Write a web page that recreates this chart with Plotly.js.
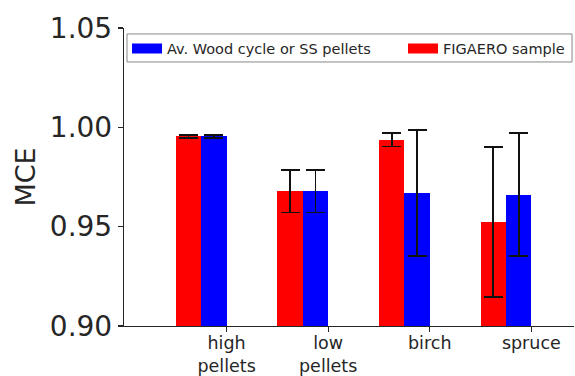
<!DOCTYPE html>
<html>
<head>
<meta charset="utf-8">
<script src="https://cdn.plot.ly/plotly-3.0.1.min.js"></script>
<style>html,body{margin:0;padding:0;background:#fff;}#chart{width:575px;height:376px;}</style>
</head>
<body>
<div id="chart"></div>
<script>
// Categories and tick labels
const categories = [0, 1, 2, 3];
const tickLabels = ["high<br>pellets", "low<br>pellets", "birch", "spruce"];

// FIGAERO sample (red)
const figaeroMCE = [0.9954, 0.9678, 0.9938, 0.9525];
const figaeroErr = [0.0008, 0.0107, 0.0034, 0.0378];

// Av. Wood cycle or SS pellets (blue)
const avgMCE = [0.9954, 0.9678, 0.9669, 0.9661];
const avgErr = [0.0008, 0.0107, 0.0318, 0.0310];

const seriesNames = ["Av. Wood cycle or SS pellets", "FIGAERO sample"];

const barWidth = 0.25;
const redX = categories.map(c => c - 1.5 * barWidth);
const blueX = categories.map(c => c - 0.5 * barWidth);

const errStyle = {type: 'data', visible: true, color: '#111', thickness: 1.8, width: 9.5};

const traces = [
  {type: 'bar', x: redX, y: figaeroMCE, width: barWidth, marker: {color: '#ff0000'},
   error_y: Object.assign({array: figaeroErr}, errStyle), showlegend: false, hoverinfo: 'none'},
  {type: 'bar', x: blueX, y: avgMCE, width: barWidth, marker: {color: '#0000ff'},
   error_y: Object.assign({array: avgErr}, errStyle), showlegend: false, hoverinfo: 'none'},
  {type: 'scatter', mode: 'lines', x: [null], y: [null], name: seriesNames[0],
   line: {color: '#0000ff', width: 10}, legend: 'legend'},
  {type: 'scatter', mode: 'lines', x: [null], y: [null], name: seriesNames[1],
   line: {color: '#ff0000', width: 10}, legend: 'legend2'}
];

const axisColor = '#262626';
const legendFont = {family: 'DejaVu Sans', size: 14.5, color: '#262626'};
const layout = {
  width: 575, height: 376,
  margin: {l: 124, r: 1, t: 28, b: 50, pad: 0},
  paper_bgcolor: '#ffffff', plot_bgcolor: '#ffffff',
  font: {family: 'DejaVu Sans', color: '#262626'},
  bargap: 0,
  showlegend: true,
  legend: {
    orientation: 'h', x: 0.0067, y: 0.985, xanchor: 'left', yanchor: 'top',
    bgcolor: 'rgba(0,0,0,0)', borderwidth: 0, font: legendFont
  },
  legend2: {
    orientation: 'h', x: 0.62, y: 0.985, xanchor: 'left', yanchor: 'top',
    bgcolor: 'rgba(0,0,0,0)', borderwidth: 0, font: legendFont
  },
  shapes: [{
    type: 'rect', xref: 'paper', yref: 'paper', x0: 0.0067, x1: 0.9956, y0: 0.886, y1: 0.98,
    line: {color: '#888888', width: 1}, fillcolor: '#ffffff', layer: 'above'
  }],
  xaxis: {
    range: [-1.01, 3.42], tickmode: 'array', tickvals: categories, ticktext: tickLabels,
    showgrid: false, zeroline: false, showline: true, linecolor: axisColor, linewidth: 1.2,
    ticks: 'outside', ticklen: 5, tickwidth: 1.2, tickcolor: axisColor, ticklabelstandoff: -4,
    tickfont: {family: 'DejaVu Sans', size: 17.5, color: '#262626'}, fixedrange: true
  },
  yaxis: {
    range: [0.9, 1.05], tickmode: 'array', tickvals: [0.90, 0.95, 1.00, 1.05],
    ticktext: ['0.90', '0.95', '1.00', '1.05'],
    showgrid: false, zeroline: false, showline: true, linecolor: axisColor, linewidth: 1.2,
    ticks: 'outside', ticklen: 5, tickwidth: 1.2, tickcolor: axisColor,
    tickfont: {family: 'DejaVu Sans', size: 28, color: '#262626'},
    title: {text: 'MCE', font: {family: 'DejaVu Sans', size: 27, color: '#262626'}, standoff: 6},
    fixedrange: true
  }
};

Plotly.newPlot('chart', traces, layout, {displayModeBar: false, staticPlot: true});
</script>
</body>
</html>
